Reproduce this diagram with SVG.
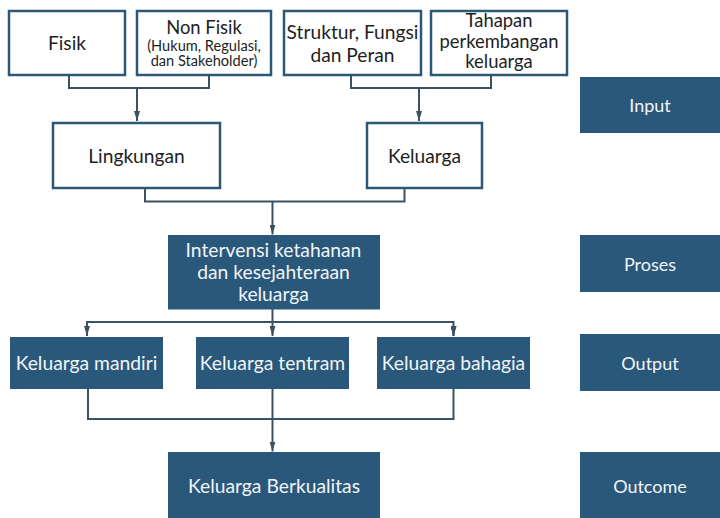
<svg xmlns="http://www.w3.org/2000/svg" width="720" height="518" viewBox="0 0 720 518">
<defs>
<style>
.ob{fill:#ffffff;stroke:#2c5878;stroke-width:2.5}
.fb{fill:#29587b}
.t{font-family:Lato,"Noto Sans",sans-serif;font-size:19.2px;fill:#1e1e1e;text-anchor:middle}
.tm{font-family:Lato,"Noto Sans",sans-serif;font-size:18.4px;fill:#1e1e1e;text-anchor:middle}
.ts{font-family:Lato,"Noto Sans",sans-serif;font-size:14.6px;fill:#1e1e1e;text-anchor:middle}
.w{font-family:Lato,"Noto Sans",sans-serif;font-size:19.3px;fill:#f2f4f6;text-anchor:middle}
.r{font-family:Lato,"Noto Sans",sans-serif;font-size:18px;fill:#f2f4f6;text-anchor:middle}
.c{fill:none;stroke:#3b5264;stroke-width:2}
</style>
<marker id="ah" viewBox="0 0 10 6" refX="10" refY="3" markerWidth="10" markerHeight="6" markerUnits="userSpaceOnUse" orient="auto">
<path d="M0,0 L10,3 L0,6 z" fill="#3b5264"/>
</marker>
</defs>
<rect width="720" height="518" fill="#ffffff"/>
<g id="connectors">
<path class="c" d="M69,76 V88 H209 V76"/>
<path class="c" d="M137,88 V121" marker-end="url(#ah)"/>
<path class="c" d="M351,76 V88 H491 V76"/>
<path class="c" d="M419,88 V121" marker-end="url(#ah)"/>
<path class="c" d="M145,189 V201.5 H404.5 V189"/>
<path class="c" d="M272.5,201.5 V234.5" marker-end="url(#ah)"/>
<path class="c" d="M272.5,309 V336" marker-end="url(#ah)"/>
<path class="c" d="M87,336 V322 H453.5 V336" marker-end="url(#ah)"/>
<path class="c" d="M87,330 V336" marker-end="url(#ah)"/>
<path class="c" d="M453.5,330 V336" marker-end="url(#ah)"/>
<path class="c" d="M88,389 V419 H453.5 V389"/>
<path class="c" d="M272.5,389 V451.5" marker-end="url(#ah)"/>
</g>
<g id="fisik"><rect class="ob" x="9" y="11" width="116" height="64"/><text class="t" x="67" y="50">Fisik</text></g>
<g id="nonfisik"><rect class="ob" x="137" y="11" width="134" height="64"/><text class="tm" x="204" y="33.5">Non Fisik</text><text class="ts" x="204" y="50.5">(Hukum, Regulasi,</text><text class="ts" x="204" y="65.7">dan Stakeholder)</text></g>
<g id="struktur"><rect class="ob" x="284" y="11" width="137" height="64"/><text class="t" x="352.5" y="39">Struktur, Fungsi</text><text class="t" x="352.5" y="61.5">dan Peran</text></g>
<g id="tahapan"><rect class="ob" x="431" y="11" width="136" height="64"/><text class="tm" x="499" y="26.5">Tahapan</text><text class="tm" x="499" y="47.5">perkembangan</text><text class="tm" x="499" y="67.5">keluarga</text></g>
<g id="lingkungan"><rect class="ob" x="53" y="123" width="167" height="65"/><text class="t" x="136.5" y="163">Lingkungan</text></g>
<g id="keluarga"><rect class="ob" x="367" y="123" width="115" height="65"/><text class="t" x="424.5" y="163">Keluarga</text></g>
<g id="intervensi"><rect class="fb" x="168" y="235" width="212" height="74.5"/><text class="w" x="273.5" y="256.5">Intervensi ketahanan</text><text class="w" x="273.5" y="279">dan kesejahteraan</text><text class="w" x="273.5" y="300.5">keluarga</text></g>
<g id="mandiri"><rect class="fb" x="10" y="337" width="153" height="52"/><text class="w" x="86.5" y="370">Keluarga mandiri</text></g>
<g id="tentram"><rect class="fb" x="196" y="337" width="153" height="52"/><text class="w" x="272.5" y="370">Keluarga tentram</text></g>
<g id="bahagia"><rect class="fb" x="377" y="337" width="153" height="52"/><text class="w" x="453.5" y="370">Keluarga bahagia</text></g>
<g id="berkualitas"><rect class="fb" x="168" y="452" width="212" height="66"/><text class="w" x="274" y="492.5">Keluarga Berkualitas</text></g>
<g id="input"><rect class="fb" x="580" y="77" width="140" height="56"/><text class="r" x="650" y="111.5">Input</text></g>
<g id="proses"><rect class="fb" x="580" y="235" width="140" height="57"/><text class="r" x="650" y="271">Proses</text></g>
<g id="output"><rect class="fb" x="580" y="334" width="140" height="57"/><text class="r" x="650" y="370">Output</text></g>
<g id="outcome"><rect class="fb" x="580" y="452" width="140" height="66"/><text class="r" x="650" y="492.5">Outcome</text></g>
</svg>
